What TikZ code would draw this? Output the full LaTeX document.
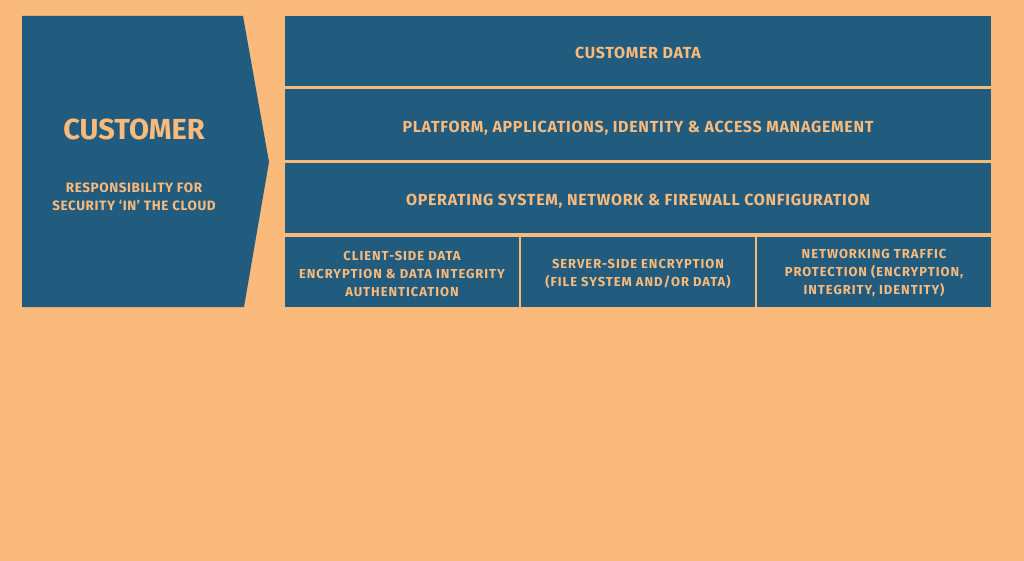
\documentclass[tikz,border=0pt]{standalone}
\usepackage{fontspec}
\setmainfont{Fira Sans}
\definecolor{bgorange}{HTML}{F9BA7C}
\definecolor{awsblue}{HTML}{215C7E}
\begin{document}
\begin{tikzpicture}[x=1pt,y=-1pt,
  panel/.style={fill=awsblue,draw=none},
  lbl/.style={text=bgorange,align=center,inner sep=0pt},
  rowtxt/.style={lbl,font=\bfseries\fontsize{16}{18}\selectfont\addfontfeatures{LetterSpace=4.4}},
  celltxt/.style={lbl,font=\bfseries\fontsize{13}{18}\selectfont\addfontfeatures{LetterSpace=7.4}}]
  % page background
  \fill[bgorange] (0,0) rectangle (1024,561);
  \useasboundingbox (0,0) rectangle (1024,561);
  % customer chevron
  \fill[awsblue] (22,16) -- (243,16) -- (269,162) -- (244,307) -- (22,307) -- cycle;
  \node[lbl,font=\bfseries\fontsize{29}{32}\selectfont] (cust) at (134,129.5) {CUSTOMER};
  \node[lbl,font=\bfseries\fontsize{13.5}{18}\selectfont\addfontfeatures{LetterSpace=4.4}] (resp) at (134,196.5) {RESPONSIBILITY FOR\\SECURITY `IN' THE CLOUD};
  % stacked layers
  \fill[panel] (285,16) rectangle (991,86);
  \node[rowtxt] (data) at (638,52.5) {CUSTOMER DATA};
  \fill[panel] (285,89) rectangle (991,160);
  \node[rowtxt] (plat) at (638,128) {PLATFORM, APPLICATIONS, IDENTITY \& ACCESS MANAGEMENT};
  \fill[panel] (285,163) rectangle (991,233);
  \node[rowtxt] (os) at (638,201) {OPERATING SYSTEM, NETWORK \& FIREWALL CONFIGURATION};
  % encryption cells
  \fill[panel] (285,237) rectangle (519,307);
  \node[celltxt] (client) at (402,273.5) {CLIENT-SIDE DATA\\ENCRYPTION \& DATA INTEGRITY\\AUTHENTICATION};
  \fill[panel] (521,237) rectangle (755,307);
  \node[celltxt] (server) at (638,273.5) {SERVER-SIDE ENCRYPTION\\(FILE SYSTEM AND/OR DATA)};
  \fill[panel] (757,237) rectangle (991,307);
  \node[celltxt] (net) at (874,273.5) {NETWORKING TRAFFIC\\PROTECTION (ENCRYPTION,\\INTEGRITY, IDENTITY)};
\end{tikzpicture}
\end{document}
